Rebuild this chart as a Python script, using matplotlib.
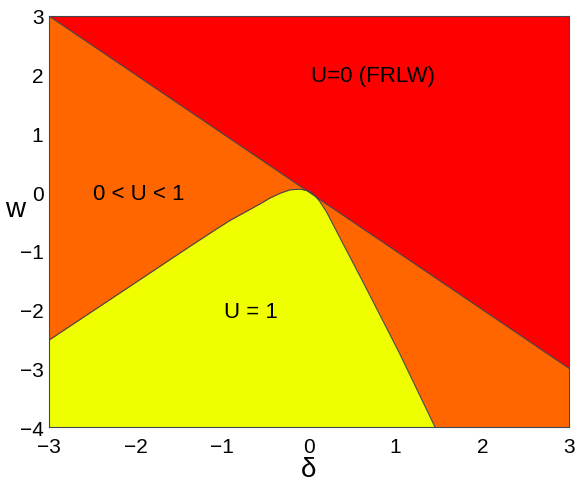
import numpy as np
import matplotlib.pyplot as plt

plt.rcParams['font.family'] = ['Liberation Sans', 'DejaVu Sans']

# batas atas daerah U = 1 (kuning)
delta_kuning = [-3.0, -2.21, -1.37, -1.08, -0.91, -0.70, -0.565, -0.45, -0.335,
                -0.22, -0.10, 0.0, 0.05, 0.12, 0.20, 0.39, 0.62, 0.95, 1.05, 1.454]
w_kuning = [-2.52, -1.745, -0.92, -0.64, -0.48, -0.31, -0.20, -0.10, -0.02,
            0.04, 0.05, 0.02, -0.03, -0.15, -0.33, -0.87, -1.52, -2.47, -2.76, -4.0]

# garis batas U = 0 : w = -delta
delta_garis = [-3.0, 3.0]
w_garis = [3.0, -3.0]

xticks = [-3, -2, -1, 0, 1, 2, 3]
yticks = [-4, -3, -2, -1, 0, 1, 2, 3]

merah = '#ff0000'
oranye = '#ff6600'
kuning = '#f0ff00'
garis = '#404a50'

fig = plt.figure(figsize=(5.81, 4.85), dpi=100)
ax = fig.add_axes([0.0843, 0.1175, 0.8950, 0.8475])
ax.set_facecolor(oranye)

ax.fill_between(delta_kuning, -4, w_kuning, color=kuning, lw=0)
ax.plot(delta_kuning, w_kuning, color=garis, lw=0.8)
ax.fill_between(delta_garis, w_garis, 3, color=merah, lw=0)
ax.plot(delta_garis, w_garis, color=garis, lw=0.8)

ax.text(-0.98, -2.03, 'U = 1', fontsize=16, va='center', ha='left')
ax.text(-2.49, -0.03, '0 < U < 1', fontsize=16, va='center', ha='left')
ax.text(0.02, 1.98, 'U=0 (FRLW)', fontsize=16, va='center', ha='left')

ax.set_xlim(-3, 3)
ax.set_ylim(-4, 3)
ax.set_xticks(xticks)
ax.set_yticks(yticks)
ax.tick_params(direction='in', length=0, labelsize=15)
ax.tick_params(axis='x', pad=7)
ax.tick_params(axis='y', pad=4)
ax.set_xlabel('δ', fontsize=20, va='center')
ax.xaxis.set_label_coords(0.5, -0.102)
ax.set_ylabel('w', fontsize=20, rotation=0, va='center', ha='center')
ax.yaxis.set_label_coords(-0.065, 0.53)
for s in ax.spines.values():
    s.set_color(garis)
    s.set_linewidth(0.8)

fig.savefig('out.png', dpi=100)
